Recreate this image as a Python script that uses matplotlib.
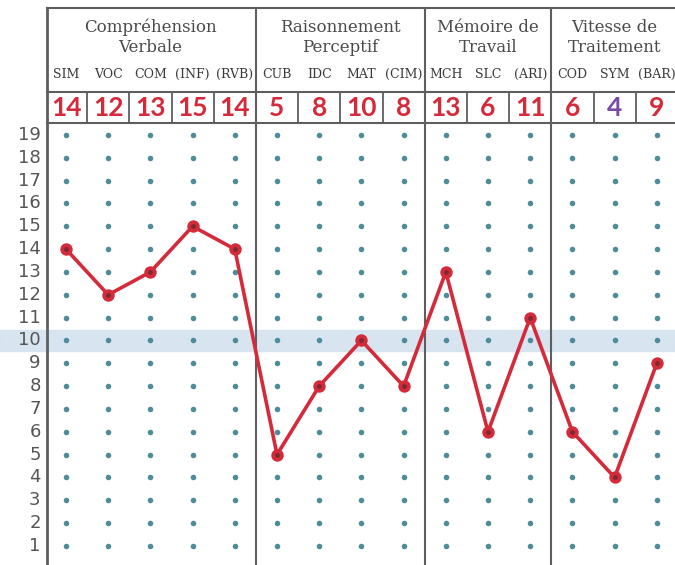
import numpy as np
import matplotlib.pyplot as plt

# subtests grouped by index
groups = ['Compréhension\nVerbale', 'Raisonnement\nPerceptif', 'Mémoire de\nTravail', 'Vitesse de\nTraitement']
group_sizes = [5, 4, 3, 3]
subtests = ['SIM', 'VOC', 'COM', '(INF)', '(RVB)',
            'CUB', 'IDC', 'MAT', '(CIM)',
            'MCH', 'SLC', '(ARI)',
            'COD', 'SYM', '(BAR)']
scores = [14, 12, 13, 15, 14, 5, 8, 10, 8, 13, 6, 11, 6, 4, 9]
levels = np.arange(1, 20)

grid_c = '#5e5e5e'
dot_c = '#4f8c9a'
red = '#d42a3a'

fig = plt.figure(figsize=(6.75, 5.65), dpi=100)
ax = fig.add_axes([0, 0, 1, 1])
ax.set_xlim(-1.564, 14.431)
ax.set_ylim(0.165, 24.913)
ax.axis('off')

x = np.arange(len(subtests))
left = -0.45
row_top, row_bot, top = 20.88, 19.53, 24.56

# mean band
ax.axhspan(9.52, 10.48, color='#d4e3f0', alpha=0.9, zorder=0)

# frame lines
bounds = np.cumsum(group_sizes)[:-1] - 0.5
ax.plot([left, left], [0, top], color=grid_c, lw=2, solid_capstyle='butt')
for b in bounds:
    ax.plot([b, b], [0, top], color=grid_c, lw=1.5)
ax.plot([left, 15], [top, top], color=grid_c, lw=1.5)
ax.plot([left, 15], [row_top, row_top], color=grid_c, lw=1.5)
ax.plot([left, 15], [row_bot, row_bot], color=grid_c, lw=1.5)
for i in range(len(subtests) - 1):
    if i + 0.5 not in bounds:
        ax.plot([i + 0.5, i + 0.5], [row_bot, row_top], color=grid_c, lw=1.3)

# group titles
starts = np.concatenate([[0], np.cumsum(group_sizes)[:-1]])
for g, s, n in zip(groups, starts, group_sizes):
    ax.text(s + (n - 1) / 2, 23.27, g, ha='center', va='center',
            fontsize=12, family='DejaVu Serif', color='#4a4a4a', linespacing=1.2)

# subtest abbreviations and written scores
for i, (t, v) in enumerate(zip(subtests, scores)):
    ax.text(i, 21.63, t, ha='center', va='center', fontsize=9,
            family='DejaVu Serif', color='#3a3a3a')
    ax.text(i, 20.2, str(v), ha='center', va='center', fontsize=19,
            family='Lato', weight='bold', color='#7a4aa8' if t == 'SYM' else red)

# y scale labels
for lv in levels:
    ax.text(-0.6, lv, str(lv), ha='right', va='center', fontsize=13,
            family='DejaVu Sans', color='#555555')

# dot grid
xx, yy = np.meshgrid(x, levels)
ax.scatter(xx.ravel(), yy.ravel(), s=16, color=dot_c, zorder=2, linewidths=0)

# profile line
ax.plot(x, scores, color=red, lw=2.6, zorder=3, solid_joinstyle='round')
ax.scatter(x, scores, s=80, color=red, zorder=4, linewidths=0)
ax.scatter(x, scores, s=12, color='#7a2a30', zorder=5, linewidths=0)

fig.savefig('out.png', dpi=100)
